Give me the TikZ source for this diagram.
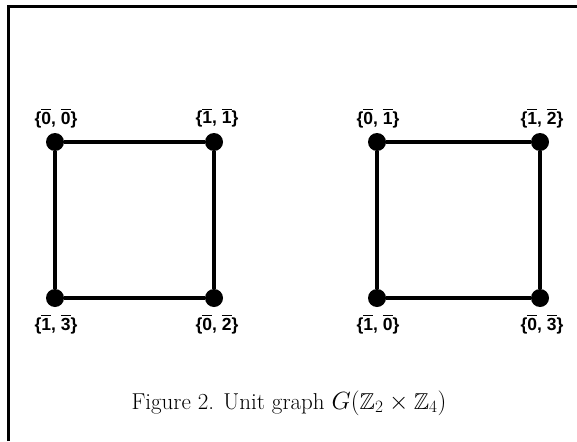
\documentclass[tikz,border=0pt]{standalone}
\usepackage{fontspec}
\usepackage{amssymb}
\newfontfamily\labfont{Liberation Sans}
\newcommand{\ob}[1]{$\overline{\hbox{#1}}$}
\begin{document}
\begin{tikzpicture}[x=1pt,y=-1pt,
  vtx/.style={circle,fill=black,inner sep=0pt,minimum width=16pt,minimum height=18pt},
  edge/.style={line width=3.2pt},
  lab/.style={font=\labfont\bfseries\fontsize{17.5}{20}\selectfont,inner sep=0pt}]
\useasboundingbox (0,0) rectangle (577,441);
\draw[line width=3.5pt] (8.5,441) -- (8.5,6.5) -- (577,6.5);
% left square
\node[vtx] (a) at (55,142) {};
\node[vtx] (b) at (214,142) {};
\node[vtx] (c) at (55,298) {};
\node[vtx] (d) at (214,298) {};
\draw[edge] (a) -- (b) -- (d) -- (c) -- (a);
% right square
\node[vtx] (e) at (377,142) {};
\node[vtx] (f) at (540,142) {};
\node[vtx] (g) at (377,298) {};
\node[vtx] (h) at (540,298) {};
\draw[edge] (e) -- (f) -- (h) -- (g) -- (e);
% labels
\node[lab] (la) at (56,118) {\{\ob{0}, \ob{0}\}};
\node[lab] (lb) at (217,118) {\{\ob{1}, \ob{1}\}};
\node[lab] (lc) at (56,324) {\{\ob{1}, \ob{3}\}};
\node[lab] (ld) at (217,324) {\{\ob{0}, \ob{2}\}};
\node[lab] (le) at (378,118) {\{\ob{0}, \ob{1}\}};
\node[lab] (lf) at (542,118) {\{\ob{1}, \ob{2}\}};
\node[lab] (lg) at (378,324) {\{\ob{1}, \ob{0}\}};
\node[lab] (lh) at (542,324) {\{\ob{0}, \ob{3}\}};
\node[font=\fontsize{23}{26}\selectfont,inner sep=0pt] (cap) at (289,403) {Figure 2. Unit graph $G(\mathbb{Z}_2\times\mathbb{Z}_4)$};
\end{tikzpicture}
\end{document}
